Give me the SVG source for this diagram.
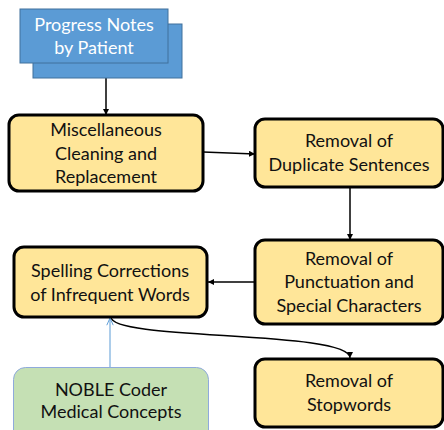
<svg xmlns="http://www.w3.org/2000/svg" width="444" height="430" viewBox="0 0 444 430">
<style>
.box{fill:#FFE699;stroke:#000;stroke-width:3}
.blue{fill:#5B9BD5;stroke:#41719C;stroke-width:1}
.green{fill:#C5E0B4;stroke:#8FAADC;stroke-width:1}
text{font-family:Lato,"Open Sans",sans-serif;font-size:18px;fill:#111;text-anchor:middle}
.w{fill:#fff}
.c{fill:none;stroke:#000;stroke-width:1.5}
.cb{fill:none;stroke:#5B9BD5;stroke-width:1}
</style>
<defs>
<marker id="ah" viewBox="0 0 10 10" refX="10" refY="5" markerWidth="6" markerHeight="6" markerUnits="userSpaceOnUse" orient="auto"><path d="M0,0 L10,5 L0,10 z" fill="#000"/></marker>
<marker id="ao" viewBox="0 0 10 10" refX="10" refY="5" markerWidth="8" markerHeight="8" markerUnits="userSpaceOnUse" orient="auto"><path d="M1,1 L10,5 L1,9" fill="none" stroke="#5B9BD5" stroke-width="1.2"/></marker>
</defs>
<g id="connectors">
<path class="c" d="M106,78 L106,115" marker-end="url(#ah)"/>
<path class="c" d="M203,152 L255,154" marker-end="url(#ah)"/>
<path class="c" d="M350,187 L350,240" marker-end="url(#ah)"/>
<path class="c" d="M255,282 L208,282" marker-end="url(#ah)"/>
<path class="c" d="M111,317 C111,341 350,330 350,358" marker-end="url(#ah)"/>
<path class="cb" d="M110,367 L110,318" marker-end="url(#ao)"/>
</g>
<g id="progress-notes">
<rect class="blue" x="33" y="24" width="149" height="54"/>
<rect class="blue" x="20" y="9" width="148" height="54"/>
<text class="w" x="94" y="31">Progress Notes</text>
<text class="w" x="94" y="54">by Patient</text>
</g>
<g id="misc-cleaning">
<rect class="box" x="9" y="115" width="194" height="76" rx="10"/>
<text x="106" y="136">Miscellaneous</text>
<text x="106" y="160">Cleaning and</text>
<text x="106" y="183">Replacement</text>
</g>
<g id="duplicate">
<rect class="box" x="255" y="119" width="188" height="68" rx="10"/>
<text x="349" y="147">Removal of</text>
<text x="349" y="171">Duplicate Sentences</text>
</g>
<g id="punctuation">
<rect class="box" x="255" y="240" width="188" height="84" rx="10"/>
<text x="349" y="265">Removal of</text>
<text x="349" y="288">Punctuation and</text>
<text x="349" y="312">Special Characters</text>
</g>
<g id="spelling">
<rect class="box" x="14" y="247" width="193" height="70" rx="10"/>
<text x="110" y="277">Spelling Corrections</text>
<text x="110" y="301">of Infrequent Words</text>
</g>
<g id="stopwords">
<rect class="box" x="255" y="359" width="188" height="68" rx="10"/>
<text x="349" y="387">Removal of</text>
<text x="349" y="411">Stopwords</text>
</g>
<g id="noble">
<rect class="green" x="13.5" y="367.5" width="195" height="80" rx="12"/>
<text x="111" y="396">NOBLE Coder</text>
<text x="111" y="418">Medical Concepts</text>
</g>
</svg>
